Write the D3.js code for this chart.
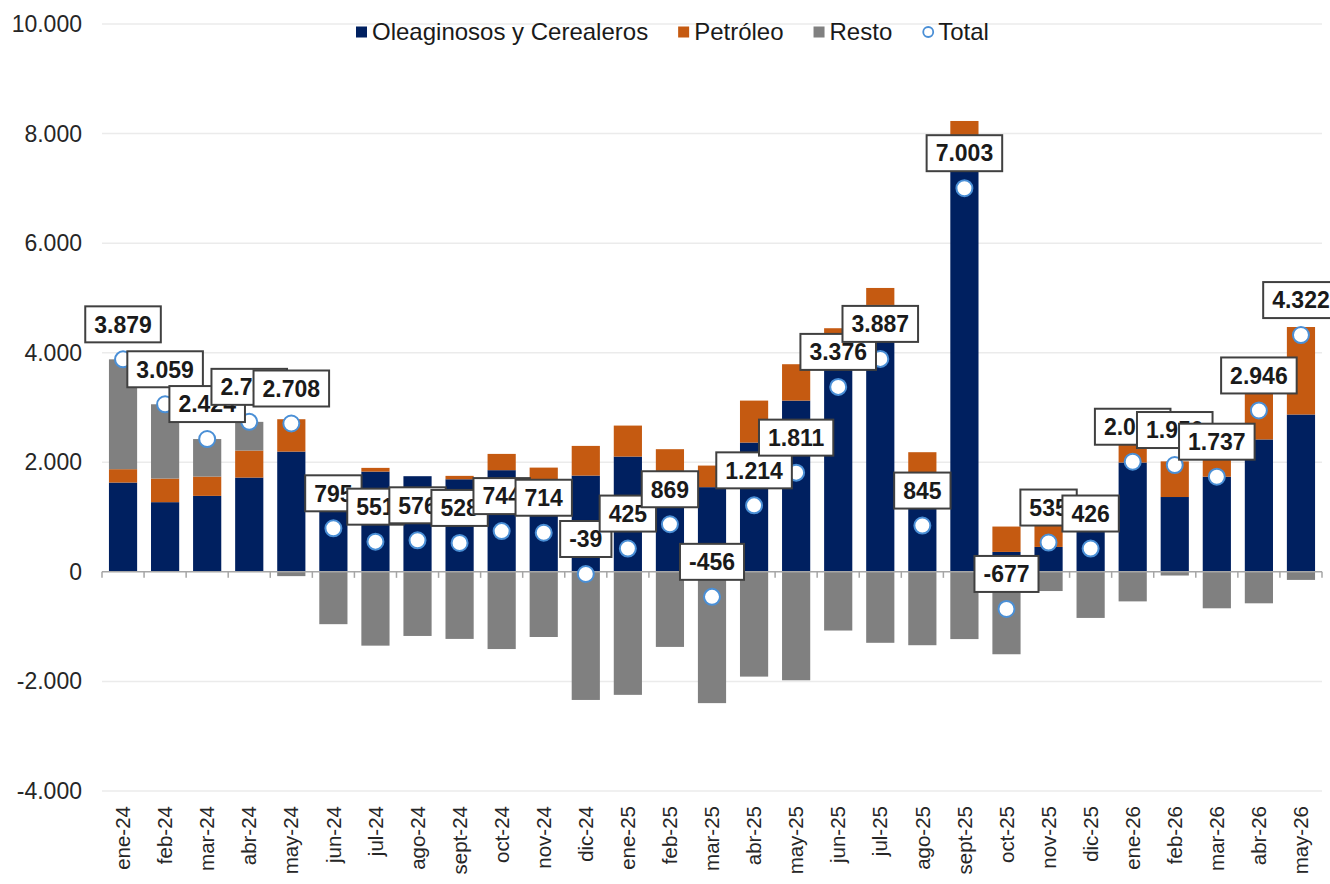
<!DOCTYPE html>
<html>
<head>
<meta charset="utf-8">
<script src="https://cdn.jsdelivr.net/npm/d3@7"></script>
<style>
  body { margin: 0; background: #fff; }
  text { font-family: "Liberation Sans", Arial, sans-serif; }
</style>
</head>
<body>
<svg width="1330" height="884"></svg>
<script>
const categories = ["ene-24","feb-24","mar-24","abr-24","may-24","jun-24","jul-24","ago-24","sept-24","oct-24","nov-24","dic-24",
	"ene-25","feb-25","mar-25","abr-25","may-25","jun-25","jul-25","ago-25","sept-25","oct-25","nov-25","dic-25",
	"ene-26","feb-26","mar-26","abr-26","may-26"];

const oleaginosos = [1630,1272,1387,1721,2195,1750,1830,1746,1690,1856,1650,1757,2104,1750,1546,2360,3126,4356,4872,1700,7800,364,455,1267,1996,1366,1737,2417,2872];
const petroleo = [244,431,352,493,591,0,68,0,62,297,253,542,566,489,394,766,664,91,310,484,430,463,430,0,553,651,665,1103,1597];
const resto = [2005,1356,685,524,-78,-955,-1347,-1170,-1224,-1409,-1189,-2338,-2245,-1370,-2396,-1912,-1979,-1071,-1295,-1339,-1227,-1504,-350,-841,-539,-67,-665,-574,-147];
const total = [3879,3059,2424,2738,2708,795,551,576,528,744,714,-39,425,869,-456,1214,1811,3376,3887,845,7003,-677,535,426,2010,1950,1737,2946,4322];

const yTicks = [-4000,-2000,0,2000,4000,6000,8000,10000];

const seriesNames = ["Oleaginosos y Cerealeros", "Petróleo", "Resto"];
const colors = { "Oleaginosos y Cerealeros": "#002060", "Petróleo": "#C55A11", "Resto": "#808080" };

const svg = d3.select("svg"),
	width = +svg.attr("width"),
	height = +svg.attr("height");

const locale = d3.formatLocale({ decimal: ",", thousands: ".", grouping: [3], currency: ["$", ""], minus: "-" });
const fmt = locale.format(",d");

const x = d3.scaleBand().domain(categories).range([102, 1322]).paddingInner(0.33).paddingOuter(0.165);
const y = d3.scaleLinear().domain([-4000, 10000]).range([791, 24]);

const rows = categories.map((c, i) => ({
	cat: c,
	"Oleaginosos y Cerealeros": oleaginosos[i],
	"Petróleo": petroleo[i],
	"Resto": resto[i],
	total: total[i]
}));

const stacked = d3.stack().keys(seriesNames).offset(d3.stackOffsetDiverging)(rows);

// gridlines
svg.append("g")
	.selectAll("line")
	.data(yTicks.filter(d => d !== 0))
	.join("line")
	.attr("x1", 102).attr("x2", 1322)
	.attr("y1", d => y(d)).attr("y2", d => y(d))
	.attr("stroke", "#ebebeb")
	.attr("stroke-width", 1.5);

// y tick labels
svg.append("g")
	.selectAll("text")
	.data(yTicks)
	.join("text")
	.attr("x", 82)
	.attr("y", d => y(d))
	.attr("dy", "0.35em")
	.attr("text-anchor", "end")
	.attr("font-size", 23)
	.attr("fill", "#262626")
	.text(d => fmt(d));

// bars
svg.append("g")
	.selectAll("g")
	.data(stacked)
	.join("g")
	.attr("fill", d => colors[d.key])
	.selectAll("rect")
	.data(d => d)
	.join("rect")
	.attr("x", d => x(d.data.cat))
	.attr("width", x.bandwidth())
	.attr("y", d => y(Math.max(d[0], d[1])))
	.attr("height", d => Math.abs(y(d[0]) - y(d[1])));

// zero axis with ticks between categories
const axis = svg.append("g");
axis.append("line")
	.attr("x1", 102).attr("x2", 1322)
	.attr("y1", y(0)).attr("y2", y(0))
	.attr("stroke", "#a6a6a6")
	.attr("stroke-width", 1.5);
axis.selectAll(".tk")
	.data(d3.range(categories.length + 1))
	.join("line")
	.attr("class", "tk")
	.attr("x1", i => 102 + i * x.step()).attr("x2", i => 102 + i * x.step())
	.attr("y1", y(0)).attr("y2", y(0) + 6)
	.attr("stroke", "#a6a6a6")
	.attr("stroke-width", 1.5);

// x labels
svg.append("g")
	.selectAll("text")
	.data(categories)
	.join("text")
	.attr("transform", d => `translate(${x(d) + x.bandwidth() / 2},806) rotate(-90)`)
	.attr("dy", "0.35em")
	.attr("text-anchor", "end")
	.attr("font-size", 20.5)
	.attr("fill", "#262626")
	.text(d => d);

// total markers
svg.append("g")
	.selectAll("circle")
	.data(rows)
	.join("circle")
	.attr("cx", d => x(d.cat) + x.bandwidth() / 2)
	.attr("cy", d => y(d.total))
	.attr("r", 8)
	.attr("fill", "#fff")
	.attr("stroke", "#4a8fd6")
	.attr("stroke-width", 2);

// data labels
const labels = svg.append("g")
	.selectAll("g")
	.data(rows)
	.join("g")
	.attr("transform", d => `translate(${x(d.cat) + x.bandwidth() / 2},${y(d.total) - 35})`);

labels.each(function (d) {
	const g = d3.select(this);
	const rect = g.append("rect");
	const t = g.append("text")
		.attr("text-anchor", "middle")
		.attr("dy", "0.36em")
		.attr("font-size", 23)
		.attr("font-weight", "bold")
		.attr("fill", "#1a1a1a")
		.text(fmt(d.total));
	const w = t.node().getComputedTextLength() + 18;
	rect.attr("x", -w / 2).attr("y", -18).attr("width", w).attr("height", 36)
		.attr("fill", "#fff")
		.attr("stroke", "#404040")
		.attr("stroke-width", 2);
});

// legend
const legend = svg.append("g").attr("transform", "translate(356,32)");
const legendItems = [
	{ name: "Oleaginosos y Cerealeros", type: "rect", color: colors["Oleaginosos y Cerealeros"] },
	{ name: "Petróleo", type: "rect", color: colors["Petróleo"] },
	{ name: "Resto", type: "rect", color: colors["Resto"] },
	{ name: "Total", type: "circle", color: "#4a8fd6" }
];
let lx = 0;
legendItems.forEach(function (item) {
	const g = legend.append("g").attr("transform", `translate(${lx},0)`);
	if (item.type === "rect") {
		g.append("rect").attr("x", 0).attr("y", -5.5).attr("width", 11).attr("height", 11).attr("fill", item.color);
	} else {
		g.append("circle").attr("cx", 6).attr("cy", 0).attr("r", 5).attr("fill", "#fff")
			.attr("stroke", item.color).attr("stroke-width", 1.8);
	}
	const t = g.append("text")
		.attr("x", 16)
		.attr("dy", "0.35em")
		.attr("font-size", 24)
		.attr("fill", "#1a1a1a")
		.text(item.name);
	lx += 16 + t.node().getComputedTextLength() + 30;
});
</script>
</body>
</html>
